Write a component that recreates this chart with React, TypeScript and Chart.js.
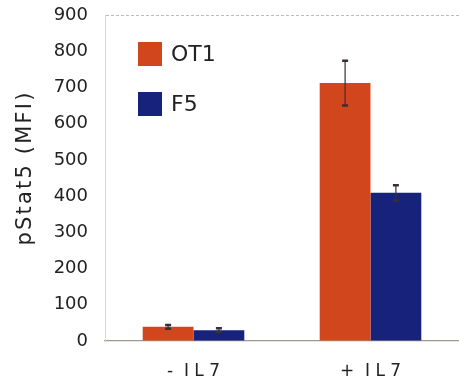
import React, { useEffect, useRef } from "react";
import { Chart, registerables } from "chart.js";

Chart.register(...registerables);

const categories = ["-  I L 7", "+  I L 7"];
const ot1Values = [39, 712];
const ot1Errors = [5, 62];
const f5Values = [30, 409];
const f5Errors = [5, 21];
const seriesNames = ["OT1", "F5"];
const seriesColors = ["#D2461E", "#17237A"];
const yTicks = [0, 100, 200, 300, 400, 500, 600, 700, 800, 900];
const yTitle = "pStat5 (MFI)";

const FONT = "'DejaVu Sans', Verdana, sans-serif";

export default function App() {
  const ref = useRef<HTMLCanvasElement | null>(null);

  useEffect(() => {
    const canvas = ref.current;
    if (!canvas) return;

    const titlePlugin = {
      id: "yTitle",
      afterDraw(chart: any) {
        const ctx = chart.ctx;
        ctx.save();
        (ctx as any).letterSpacing = "2.2px";
        ctx.translate(26, 168);
        ctx.rotate(-Math.PI / 2);
        ctx.font = `21px ${FONT}`;
        ctx.fillStyle = "#222";
        ctx.textAlign = "center";
        ctx.textBaseline = "middle";
        ctx.fillText(yTitle, 0, 0);
        ctx.restore();
      },
    };

    const errorPlugin = {
      id: "errorBars",
      afterDatasetsDraw(chart: any) {
        const ctx = chart.ctx;
        const yScale = chart.scales.y;
        const errs = [ot1Errors, f5Errors];
        const vals = [ot1Values, f5Values];
        ctx.save();
        ctx.strokeStyle = "#3a3030";
        chart.data.datasets.forEach((_: any, di: number) => {
          const meta = chart.getDatasetMeta(di);
          meta.data.forEach((bar: any, i: number) => {
            const x = bar.x;
            const top = yScale.getPixelForValue(vals[di][i] + errs[di][i]);
            const bot = yScale.getPixelForValue(vals[di][i] - errs[di][i]);
            ctx.lineWidth = 1.2;
            ctx.beginPath();
            ctx.moveTo(x, top);
            ctx.lineTo(x, bot);
            ctx.stroke();
            ctx.lineWidth = 2.5;
            ctx.beginPath();
            ctx.moveTo(x - 3, top);
            ctx.lineTo(x + 3, top);
            ctx.moveTo(x - 3, bot);
            ctx.lineTo(x + 3, bot);
            ctx.stroke();
          });
        });
        ctx.restore();
      },
    };

    const legendPlugin = {
      id: "customLegend",
      afterDraw(chart: any) {
        const ctx = chart.ctx;
        const left = chart.chartArea.left + 33;
        const top0 = chart.chartArea.top + 27;
        ctx.save();
        ctx.font = `22px ${FONT}`;
        ctx.textBaseline = "middle";
        ctx.textAlign = "left";
        chart.data.datasets.forEach((ds: any, i: number) => {
          const y = top0 + i * 50;
          ctx.fillStyle = ds.backgroundColor;
          ctx.fillRect(left, y, 24, 24);
          ctx.fillStyle = "#222";
          ctx.fillText(ds.label, left + 33, y + 13);
        });
        ctx.restore();
      },
    };

    const chart = new Chart(canvas, {
      type: "bar",
      data: {
        labels: categories,
        datasets: [
          {
            label: seriesNames[0],
            data: ot1Values,
            backgroundColor: seriesColors[0],
            categoryPercentage: 0.574,
            barPercentage: 1.0,
          },
          {
            label: seriesNames[1],
            data: f5Values,
            backgroundColor: seriesColors[1],
            categoryPercentage: 0.574,
            barPercentage: 1.0,
          },
        ],
      },
      options: {
        responsive: false,
        animation: false,
        layout: { padding: { left: 0, right: 0, top: 15, bottom: 0 } },
        plugins: {
          legend: { display: false },
          tooltip: { enabled: false },
        },
        scales: {
          x: {
            grid: { display: false },
            border: { display: true, color: "#9a9a90", width: 1.2 },
            ticks: {
              color: "#222",
              font: { family: FONT, size: 17 },
              padding: 12,
            },
            afterFit(scale: any) {
              scale.height = 40;
              scale.paddingLeft = 0;
              scale.paddingRight = 0;
            },
          },
          y: {
            min: 0,
            max: 900,
            afterBuildTicks(scale: any) {
              scale.ticks = yTicks.map((v) => ({ value: v }));
            },
            grid: {
              drawTicks: false,
              color: (c: any) => (c.tick && c.tick.value === 900 ? "#bdbdb5" : "rgba(0,0,0,0)"),
            },
            border: { display: true, color: "#d8d8d2", width: 1, dash: [3, 2] },
            ticks: {
              color: "#222",
              font: { family: FONT, size: 18 },
              padding: 17,
            },
            afterFit(scale: any) {
              scale.width = 105;
              scale.paddingTop = 0;
              scale.paddingBottom = 0;
            },
          },
        },
      },
      plugins: [errorPlugin, legendPlugin, titlePlugin],
    });

    return () => chart.destroy();
  }, []);

  return (
    <div style={{ position: "absolute", left: 0, top: 0, width: 459, height: 381, background: "#fff" }}>
      <canvas ref={ref} width={459} height={381} />
    </div>
  );
}
